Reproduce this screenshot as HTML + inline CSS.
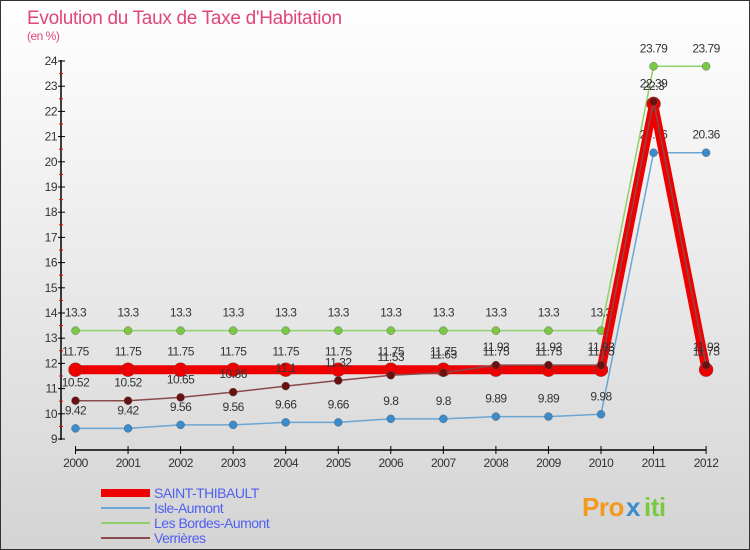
<!DOCTYPE html>
<html><head><meta charset="utf-8"><style>
body{margin:0;width:750px;height:550px;overflow:hidden;font-family:"Liberation Sans",sans-serif}
#wrap{position:absolute;left:0;top:0;width:748px;height:548px;border:1px solid #333;background:linear-gradient(#fff,#d4d4d4)}
</style></head><body>
<div id="wrap">
<svg id="c" width="750" height="550" style="position:absolute;left:-1px;top:-1px"></svg>
</div>
<script>
const years=[2000,2001,2002,2003,2004,2005,2006,2007,2008,2009,2010,2011,2012];
const saint=[11.75,11.75,11.75,11.75,11.75,11.75,11.75,11.75,11.75,11.75,11.75,22.3,11.75];
const isle=[9.42,9.42,9.56,9.56,9.66,9.66,9.8,9.8,9.89,9.89,9.98,20.36,20.36];
const bordes=[13.3,13.3,13.3,13.3,13.3,13.3,13.3,13.3,13.3,13.3,13.3,23.79,23.79];
const verr=[10.52,10.52,10.65,10.86,11.1,11.32,11.53,11.63,11.93,11.93,11.93,22.39,11.93];
const yTicks=[9,10,11,12,13,14,15,16,17,18,19,20,21,22,23,24];
const svg=document.getElementById('c');const NS='http://www.w3.org/2000/svg';
function X(i){return 75.5+i*52.55}
function Y(v){return 439-(v-9)*25.2}
function el(t,a,p){const e=document.createElementNS(NS,t);for(const k in a)e.setAttribute(k,a[k]);(p||svg).appendChild(e);return e}
function tx(x,y,s,a){const e=el('text',Object.assign({x:x,y:y,'font-size':12,fill:'#333','letter-spacing':'-0.5'},a||{}));e.textContent=s;return e}
let t=tx(27,24,'Evolution du Taux de Taxe d\'Habitation',{'font-size':19,fill:'#e0457b','letter-spacing':'-0.3'});

t=tx(27,40,'(en %)',{'font-size':12,fill:'#e0457b'});

let ax=el('line',{x1:61,y1:60,x2:61,y2:440,stroke:'#000','stroke-width':1.5});

yTicks.forEach(v=>{el('line',{x1:58,y1:Y(v),x2:65,y2:Y(v),stroke:'#000'});
 if(v<24)el('line',{x1:59,y1:Y(v+0.5),x2:63,y2:Y(v+0.5),stroke:'#e00'});
 const l=tx(57,Y(v)+4,String(v),{'text-anchor':'end'});});
ax=el('line',{x1:X(0),y1:450,x2:X(12),y2:450,stroke:'#000','stroke-width':1.5});

years.forEach((y,i)=>{el('line',{x1:X(i),y1:446,x2:X(i),y2:454,stroke:'#000'});
 const l=tx(X(i),467,String(y),{'text-anchor':'middle'});});
function series(d,color,w,r,name,dot){
 const g=el('g',{});
 el('polyline',{points:d.map((v,i)=>X(i)+','+Y(v)).join(' '),fill:'none',stroke:color,'stroke-width':w,'stroke-linejoin':'round'},g);
 d.forEach((v,i)=>{const c=el('circle',{cx:X(i),cy:Y(v),r:r,fill:dot,stroke:'#555','stroke-width':0.4},g);
  
  const l=tx(X(i),Y(v)-14,String(v),{'text-anchor':'middle'},);g.appendChild(l);});
}
series(bordes,'#8fd16a',1.5,4,'les-bordes-aumont','#7ac943');
series(isle,'#6aa6d6',1.5,4,'isle-aumont','#3a8ccc');
series(saint,'#ee0000',9,7,'saint-thibault','#ee0000');
series(verr,'#8a4a4a',1.5,4,'verrieres','#6b1010');
const leg=[['SAINT-THIBAULT','#ee0000',8],['Isle-Aumont','#6aa6d6',2],['Les Bordes-Aumont','#8fd16a',2],['Verrières','#8a4a4a',2]];
leg.forEach((L,i)=>{const g=el('g',{});
 const y=493+i*15;el('line',{x1:101,y1:y,x2:150,y2:y,stroke:L[1],'stroke-width':L[2]},g);
 const tt=tx(154,y+5,L[0],{'font-size':14,fill:'#5060f0'});g.appendChild(tt);});
t=tx(582,516,'Pro',{'font-size':26,fill:'#f39a1e','font-weight':'bold'});
t=tx(626,516,'x',{'font-size':26,fill:'#3a8ccc','font-weight':'bold'});
t=tx(644,516,'iti',{'font-size':26,fill:'#7ac943','font-weight':'bold'});
</script>
</body></html>
